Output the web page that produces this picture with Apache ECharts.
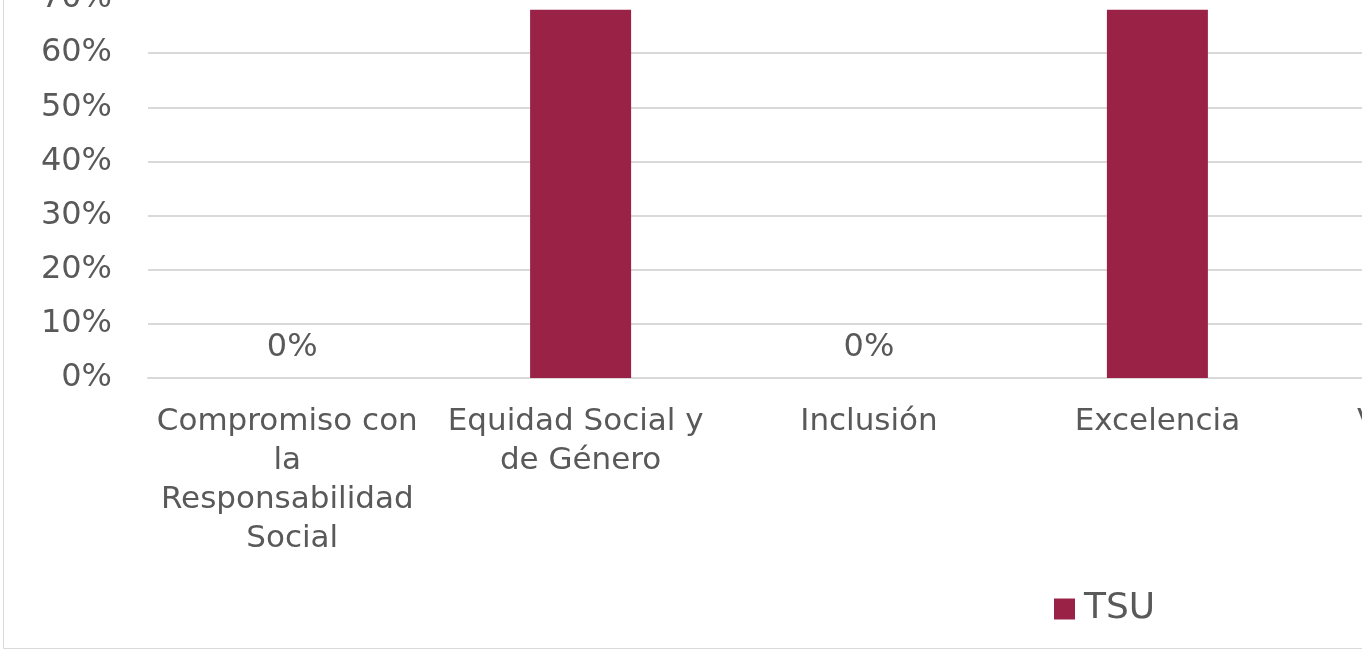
<!DOCTYPE html>
<html>
<head>
<meta charset="utf-8">
<script src="https://cdn.jsdelivr.net/npm/echarts@6/dist/echarts.min.js"></script>
<style>
html,body{margin:0;padding:0;background:#fff;}
#chart{width:1362px;height:650px;}
</style>
</head>
<body>
<div id="chart"></div>
<script>
const categories = ['Compromiso con la Responsabilidad Social', 'Equidad Social y de Género', 'Inclusión', 'Excelencia', 'Vinculación'];
const seriesName = 'TSU';
const values = [0, 0.68, 0, 0.68, 0];
const yTicks = [0, 0.1, 0.2, 0.3, 0.4, 0.5, 0.6, 0.7];

const FONT = 'DejaVu Sans';
const TXT = '#595959';
const chart = echarts.init(document.getElementById('chart'));
chart.setOption({
  animation: false,
  backgroundColor: '#fff',
  graphic: [
    {type: 'line', shape: {x1: 3.5, y1: 0, x2: 3.5, y2: 648.5}, style: {stroke: '#d9d9d9', lineWidth: 1}},
    {type: 'line', shape: {x1: 3.5, y1: 648.5, x2: 1362, y2: 648.5}, style: {stroke: '#d9d9d9', lineWidth: 1}}
  ],
  grid: {left: 148, top: -1, width: 1442, height: 379, containLabel: false, outerBoundsMode: 'none'},
  legend: {
    data: [seriesName],
    left: 1049, top: 586,
    itemWidth: 21, itemHeight: 21, itemGap: 13,
    icon: 'rect',
    textStyle: {fontFamily: FONT, fontSize: 36, color: TXT, padding: [0, 0, 0, 4]}
  },
  xAxis: {
    type: 'category',
    data: categories,
    axisTick: {show: false},
    axisLine: {show: true, lineStyle: {color: '#d9d9d9', width: 2}},
    axisLabel: {
      interval: 0, margin: 24,
      fontFamily: FONT, fontSize: 31, color: TXT, lineHeight: 39,
      width: 278, overflow: 'break'
    }
  },
  yAxis: {
    type: 'value', min: yTicks[0], max: yTicks[yTicks.length - 1], interval: 0.1,
    axisLine: {show: false}, axisTick: {show: false},
    splitLine: {lineStyle: {color: '#d9d9d9', width: 2}},
    axisLabel: {
      margin: 36, fontFamily: FONT, fontSize: 32, color: TXT,
      formatter: v => Math.round(v * 100) + '%'
    }
  },
  series: [{
    name: seriesName,
    type: 'bar',
    data: values,
    barWidth: 101,
    itemStyle: {color: '#9b2247'},
    label: {
      show: true, position: 'top', distance: 14,
      fontFamily: FONT, fontSize: 32, color: TXT,
      formatter: p => Math.round(p.value * 100) + '%'
    }
  }]
});
</script>
</body>
</html>
